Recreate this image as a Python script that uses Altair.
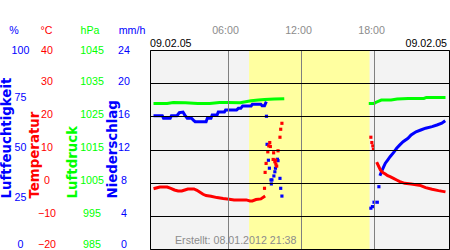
import altair as alt
import pandas as pd

BLUE = "#0000ff"
RED = "#ff0000"
GREEN = "#00ff00"
GREY_TXT = "#8c8c8c"

# ---------------- data (hours of day, values) ----------------
# relative humidity (%)
hum_a_h = [0.0, 0.6, 0.7, 1.25, 1.35, 1.8, 2.0, 2.3, 2.45, 2.65, 3.0, 3.15, 3.3, 4.2, 4.3, 4.6,
           4.7, 5.1, 5.2, 5.7, 5.8, 6.7, 6.85, 7.05, 7.2, 7.9, 8.0, 8.7, 8.8, 9.0, 9.1]
hum_a_v = [67.0, 67.0, 65.7, 65.7, 67.0, 67.0, 68.5, 68.8, 67.3, 65.7, 65.7, 64.8, 64.0, 64.0, 65.7, 65.7,
           67.3, 67.3, 68.8, 68.8, 69.8, 69.8, 70.7, 70.7, 71.9, 71.9, 72.7, 72.7, 72.0, 72.0, 73.4]
hum_b_h = [18.53, 18.67, 18.8, 18.93, 19.12, 19.32, 19.6, 19.86, 20.12, 20.39, 20.79, 21.05, 21.45,
           21.84, 22.24, 22.77, 23.17, 23.57, 23.75]
hum_b_v = [37.5, 39.7, 41.4, 43.1, 44.7, 46.4, 48.4, 50.6, 52.3, 53.9, 55.6, 57.3, 58.9,
           59.8, 60.7, 61.5, 62.3, 63.2, 64.0]
hum_p_h = [9.16, 9.21, 9.32, 9.4, 9.53, 9.61, 9.56, 9.77, 9.85, 9.9, 10.06, 10.11, 10.27, 10.33, 10.43,
           17.74, 17.87, 18.0, 18.27, 18.4]
hum_p_v = [66.7, 52.6, 44.6, 40.6, 34.7, 34.7, 32.7, 36.7, 38.8, 40.6, 45.1, 44.4, 35.5, 30.5, 26.6,
           20.5, 21.3, 23.5, 23.5, 31.3]

# temperature (°C)
temp_a_h = [0.0, 0.4, 1.0, 1.3, 1.6, 1.9, 2.2, 2.45, 2.7, 3.2, 3.45, 3.7, 3.95, 4.2, 4.6, 5.1, 5.6,
            6.1, 6.5, 7.5, 7.8, 8.0, 8.3, 8.7, 8.95]
temp_a_v = [-1.7, -1.3, -1.3, -1.7, -2.2, -2.5, -2.5, -2.2, -1.9, -1.9, -2.3, -2.9, -3.5, -3.9, -4.1, -4.5, -4.8,
            -5.0, -5.2, -5.2, -5.5, -5.5, -5.1, -4.9, -4.3]
temp_b_h = [18.27, 18.4, 18.53, 18.75, 18.93, 19.12, 19.32, 19.6, 19.86, 20.12, 20.52, 21.05, 21.45,
            21.84, 22.24, 22.77, 23.3, 23.75]
temp_b_v = [5.8, 4.8, 3.8, 3.0, 2.6, 2.1, 1.8, 1.3, 0.8, 0.3, -0.2, -0.4, -0.6,
            -0.9, -1.5, -2.0, -2.4, -2.7]
temp_p_h = [9.0, 9.05, 9.13, 9.27, 9.35, 9.43, 9.48, 9.75, 9.71, 9.91, 9.85, 9.93, 10.0, 10.11, 10.27,
            10.33, 10.43, 17.74, 17.82, 17.9, 17.95]
temp_p_v = [-1.7, 3.1, 5.8, 9.3, 11.1, 12.1, 10.9, 9.0, 7.0, 6.8, 6.3, 5.6, 5.0, 9.6, 13.7,
            16.1, 17.9, 13.7, 12.1, 11.1, 10.1]

# air pressure (hPa)
pres_a_h = [0.0, 1.0, 1.5, 2.5, 3.5, 4.5, 5.3, 6.0, 7.0, 7.9, 8.5, 9.0, 9.8, 10.5]
pres_a_v = [1028.9, 1028.9, 1029.2, 1029.1, 1028.9, 1028.9, 1029.2, 1029.2, 1029.1, 1029.7, 1029.9,
            1030.1, 1030.2, 1030.3]
pres_b_h = [17.69, 18.0, 18.25, 18.6, 19.4, 19.9, 20.8, 22.1, 22.3, 23.75]
pres_b_v = [1028.9, 1028.9, 1029.4, 1029.9, 1029.9, 1030.2, 1030.4, 1030.4, 1030.7, 1030.7]

# precipitation (mm/h)
rain_h = list(range(0, 24))
rain_v = [0] * 24

# daylight
day_start = [7.73]
day_end = [17.63]

# axis ticks / labels
hum_ticks = [0, 25, 50, 75, 100]
temp_ticks = [-20, -10, 0, 10, 20, 30, 40]
pres_ticks = [985, 995, 1005, 1015, 1025, 1035, 1045]
rain_ticks = [0, 4, 8, 12, 16, 20, 24]
time_ticks = [6, 12, 18]
units = ["%", "°C", "hPa", "mm/h"]
names = ["Luftfeuchtigkeit", "Temperatur", "Luftdruck", "Niederschlag"]
date_label = "09.02.05"
created = "Erstellt: 08.01.2012 21:38"


def seg_df(parts, field):
    rows = []
    for i, (hs, vs) in enumerate(parts):
        for h, v in zip(hs, vs):
            rows.append({"h": h, field: v, "seg": i})
    return pd.DataFrame(rows)


def pts_df(hs, vs, field):
    return pd.DataFrame({"h": hs, field: vs})


LABEL_FONT = "Liberation Sans"
FS = 10.67

xs = alt.Scale(domain=[0, 23.75], nice=False, zero=False)
xaxis = alt.Axis(orient="top", values=time_ticks,
                 labelExpr="(datum.value < 10 ? '0' : '') + datum.value + ':00'",
                 labelColor=GREY_TXT, labelFont=LABEL_FONT, labelFontSize=FS,
                 labelPadding=20, labelBaseline="middle", labelOffset=-3, labelFlush=False,
                 ticks=False, tickSize=0, domain=False, grid=True, gridColor="#808080",
                 gridWidth=1, title=None, zindex=1)


def X(field="h"):
    return alt.X(f"{field}:Q", scale=xs, axis=xaxis)


def yaxis(offset, vals, color, title, title_x, grid=False):
    kw = dict(orient="left", offset=offset, values=vals, format="d", labelColor=color,
              labelAlign="center", labelPadding=0, ticks=False,
              tickSize=0, domain=False, labelFont=LABEL_FONT, labelFontSize=FS,
              labelFlush=True, labelFlushOffset=2.6, labelOverlap=False, labelOffset=-2,
              title=title, titleColor=color, titleFont="DejaVu Sans",
              titleFontWeight="bold", titleFontSize=13.33, titleAngle=270, titleAlign="left",
              titleBaseline="middle", titleX=title_x, titleY=148, grid=grid)
    if grid:
        kw.update(gridColor="black", gridWidth=1, zindex=1)
    return alt.Axis(**kw)


# background daylight band
bg = alt.Chart(pd.DataFrame({"start": day_start, "end": day_end})).mark_rect(
    color="#ffffa0").encode(x=X("start"), x2="end:Q")

# humidity
hY = alt.Y("hum:Q", scale=alt.Scale(domain=[0, 100], nice=False, zero=False),
           axis=yaxis(130, hum_ticks, BLUE, names[0], -13.5))
hum = alt.layer(
    alt.Chart(seg_df([(hum_a_h, hum_a_v), (hum_b_h, hum_b_v)], "hum")).mark_line(
        color=BLUE, strokeWidth=3, strokeCap="square").encode(x=X(), y=hY, detail="seg:N"),
    alt.Chart(pts_df(hum_p_h, hum_p_v, "hum")).mark_square(
        color=BLUE, size=10, opacity=1).encode(x=X(), y=hY),
)

# pressure
pY = alt.Y("pres:Q", scale=alt.Scale(domain=[985, 1045], nice=False, zero=False),
           axis=yaxis(58.5, pres_ticks, GREEN, names[2], -19.5))
pres = alt.Chart(seg_df([(pres_a_h, pres_a_v), (pres_b_h, pres_b_v)], "pres")).mark_line(
    color=GREEN, strokeWidth=3, strokeCap="square").encode(x=X(), y=pY, detail="seg:N")

# temperature
tY = alt.Y("temp:Q", scale=alt.Scale(domain=[-20, 40], nice=False, zero=False),
           axis=yaxis(103.5, temp_ticks, RED, names[1], -12.5, grid=True))
temp = alt.layer(
    alt.Chart(seg_df([(temp_a_h, temp_a_v), (temp_b_h, temp_b_v)], "temp")).mark_line(
        color=RED, strokeWidth=3, strokeCap="square").encode(x=X(), y=tY, detail="seg:N"),
    alt.Chart(pts_df(temp_p_h, temp_p_v, "temp")).mark_square(
        color=RED, size=10, opacity=1).encode(x=X(), y=tY),
)

# precipitation (none fell: zero-height bars)
rY = alt.Y("rain:Q", scale=alt.Scale(domain=[0, 24], nice=False, zero=False),
           axis=yaxis(26.5, rain_ticks, BLUE, names[3], -11))
rain = alt.Chart(pts_df(rain_h, rain_v, "rain")).mark_bar(color=BLUE, size=3).encode(x=X(), y=rY)


def txt(text, x, y, color, align="center", size=FS):
    return alt.Chart(alt.Data(values=[{}])).mark_text(
        text=text, color=color, align=align, baseline="middle", font=LABEL_FONT, fontSize=size
    ).encode(x=alt.value(x), y=alt.value(y))


texts = [
    txt(units[0], -136, -19.3, BLUE),
    txt(units[1], -103.5, -19.3, RED),
    txt(units[2], -60, -19.3, GREEN),
    txt(units[3], -18, -19.3, BLUE),
    txt(date_label, 0, -6.5, "black", align="left"),
    txt(date_label, 297, -6.5, "black", align="right"),
    txt(created, 25, 190.5, GREY_TXT, align="left"),
]

chart = alt.layer(bg, hum, pres, temp, rain, *texts).resolve_scale(y="independent").properties(
    width=299, height=199,
    padding={"left": 150, "top": 50, "right": 1, "bottom": 1},
    autosize=alt.AutoSizeParams(type="none"),
).configure_view(fill="#f3f3f3", stroke="black", strokeWidth=1)

chart.save("out.html", embed_options={"renderer": "svg", "actions": False})
